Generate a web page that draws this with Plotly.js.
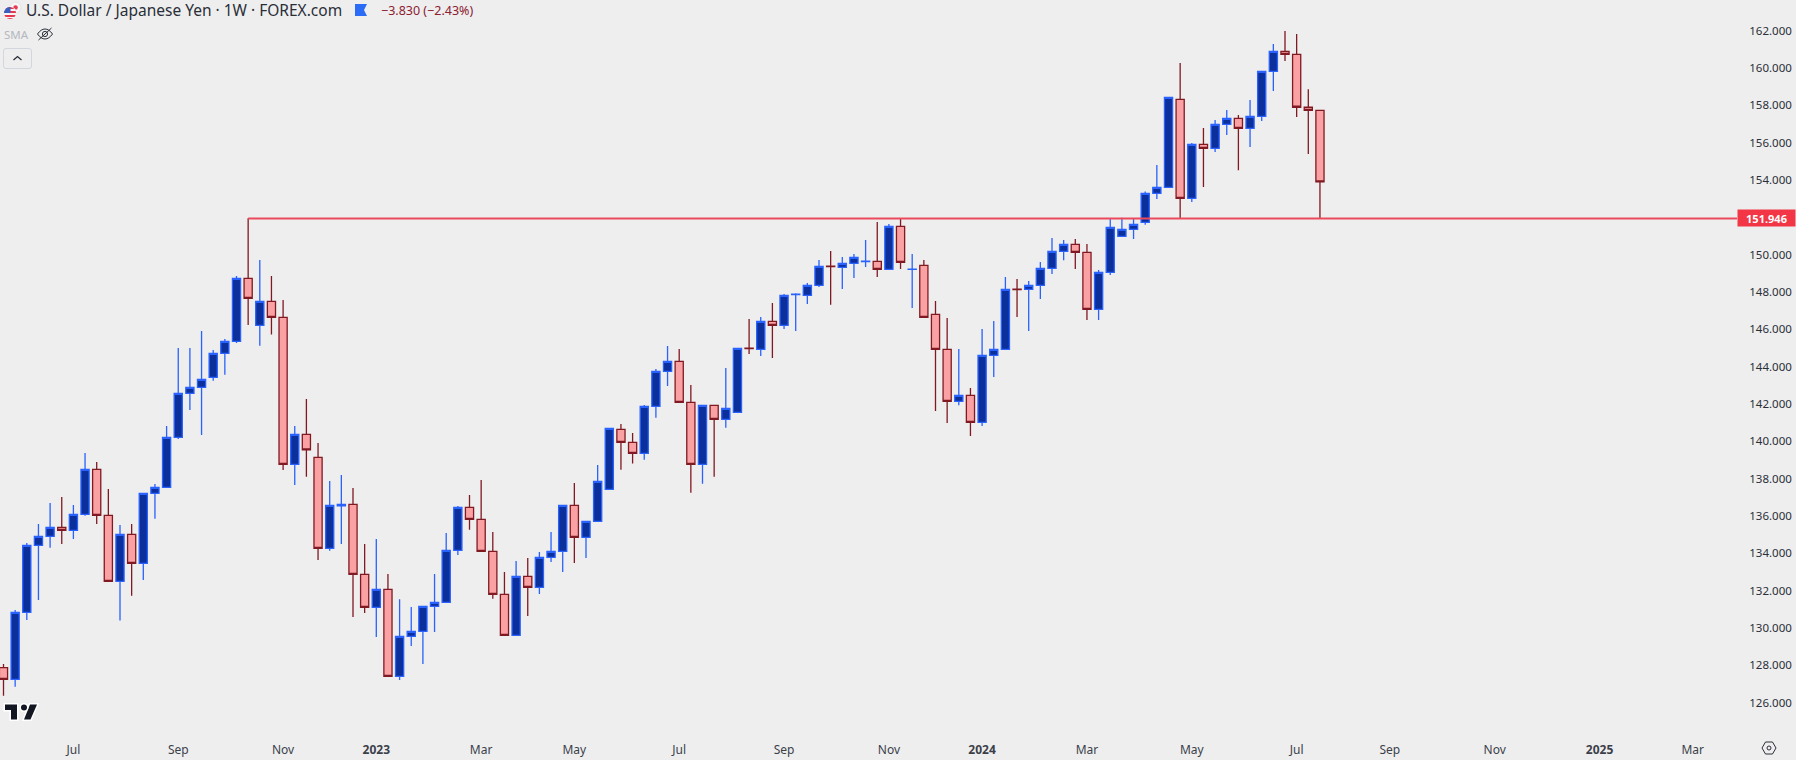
<!DOCTYPE html>
<html>
<head>
<meta charset="utf-8">
<title>USD/JPY weekly</title>
<script src="https://cdn.plot.ly/plotly-3.0.1.min.js"></script>
<style>html,body{margin:0;padding:0;background:#eeeeee;overflow:hidden}#chart{width:1796px;height:760px}</style>
</head>
<body>
<div id="chart"></div>
<script>
const firstWeek = '2022-05-23';
const opens = [127.88,127.25,130.84,134.43,134.91,135.39,135.23,136.09,138.50,136.04,132.50,135.02,133.47,137.22,137.54,140.22,142.57,142.89,143.43,144.72,145.36,148.73,146.21,147.50,146.64,138.77,140.38,139.14,134.27,136.55,136.63,132.88,131.11,132.07,127.41,129.55,129.82,131.16,131.38,134.16,136.47,135.82,134.11,131.81,129.61,132.77,132.18,133.79,134.11,136.57,134.86,135.72,137.43,140.64,139.95,139.36,141.88,143.75,144.29,142.09,138.77,141.93,141.18,141.56,145.00,144.93,146.43,146.22,147.86,147.82,148.36,149.39,149.32,149.54,149.63,149.64,149.22,151.52,149.21,149.43,146.80,144.93,142.14,142.47,141.02,144.61,144.93,148.15,148.14,148.36,149.27,150.18,150.55,150.13,147.07,149.05,150.98,151.36,151.73,153.29,153.61,158.32,153.02,155.91,155.70,156.98,157.30,156.77,157.41,159.82,160.89,160.73,157.90,157.73];
const highs = [128.07,130.97,134.56,135.57,136.70,137.02,136.59,139.38,138.90,137.45,135.52,135.57,137.22,137.72,140.82,145.00,145.00,145.91,144.90,145.48,148.86,151.95,149.72,148.86,147.57,140.82,142.27,139.91,137.88,138.20,137.50,134.50,134.77,132.89,131.55,131.13,131.16,132.89,135.09,136.54,137.13,137.93,135.14,133.00,133.59,133.75,134.07,135.14,136.57,137.77,135.72,138.73,140.70,140.93,140.45,141.95,143.88,145.11,144.95,143.02,141.93,141.93,143.93,144.98,146.55,146.66,147.41,147.89,147.93,148.48,149.72,150.20,149.88,150.04,150.79,151.75,151.64,151.93,150.04,149.72,147.52,146.61,144.95,142.86,146.02,146.45,148.80,148.70,148.59,149.61,150.89,150.79,150.84,150.57,149.18,151.92,151.98,151.95,153.39,154.80,158.43,160.27,155.98,156.79,157.22,157.75,157.48,158.29,159.82,161.29,161.98,161.82,158.87,157.73];
const lows = [126.38,126.86,130.43,131.50,134.30,134.50,134.77,136.02,135.57,132.50,130.40,131.73,132.57,135.86,137.54,140.13,141.68,140.34,143.25,143.57,145.27,146.23,145.13,145.72,138.47,137.66,138.11,133.64,134.14,134.50,130.59,130.81,129.52,127.41,127.22,129.04,128.07,129.79,131.38,133.91,135.27,134.11,131.57,129.61,129.61,130.65,131.82,133.54,133.00,133.48,133.75,135.72,137.43,138.48,138.81,139.02,141.27,142.97,142.09,137.25,137.73,138.11,140.73,141.56,144.68,144.57,144.47,146.02,145.91,147.36,148.27,147.32,148.16,148.75,149.34,148.81,149.22,149.23,147.14,146.64,141.63,140.98,141.93,140.29,140.82,143.45,144.93,146.66,145.91,147.63,148.97,149.71,149.23,146.50,146.50,148.91,150.98,150.84,151.61,152.98,153.61,151.93,152.82,153.63,155.50,156.41,154.53,155.77,157.16,158.77,160.38,157.38,155.39,151.946];
const closes = [127.25,130.84,134.43,134.91,135.39,135.23,136.09,138.50,136.04,132.50,135.02,133.47,137.22,137.54,140.22,142.57,142.89,143.32,144.72,145.36,148.73,147.66,147.50,146.64,138.77,140.38,139.55,134.27,136.57,136.63,132.88,131.11,132.07,127.41,129.55,129.82,131.16,131.38,134.16,136.47,135.82,134.11,131.81,129.61,132.77,132.18,133.79,134.11,136.57,134.86,135.72,137.86,140.70,139.95,139.36,141.88,143.75,144.29,142.09,138.77,141.93,141.18,141.77,144.98,144.97,146.43,146.22,147.82,147.89,148.36,149.38,149.37,149.54,149.86,149.65,149.22,151.52,149.59,149.23,146.64,144.93,142.14,142.47,141.02,144.61,144.93,148.14,148.13,148.36,149.27,150.18,150.55,150.13,147.07,149.05,151.47,151.36,151.63,153.29,153.61,158.43,153.02,155.91,155.70,156.98,157.30,156.77,157.41,159.82,160.89,160.73,157.90,157.73,153.90];

const levelDates = ['2022-10-17','2025-03-29 14:00'];
const levelPrices = [151.946,151.946];
const levelLabel = '<b>151.946</b>';

const monthTickDates = ['2022-07-04','2022-09-05','2022-11-07','2023-01-02','2023-03-06','2023-05-01','2023-07-03','2023-09-04','2023-11-06','2024-01-01','2024-03-04','2024-05-06','2024-07-08','2024-09-02','2024-11-04','2025-01-06','2025-03-03'];
const monthTickLabels = ['Jul','Sep','Nov','<b>2023</b>','Mar','May','Jul','Sep','Nov','<b>2024</b>','Mar','May','Jul','Sep','Nov','<b>2025</b>','Mar'];
const priceTicks = [126,128,130,132,134,136,138,140,142,144,146,148,150,154,156,158,160,162];

const headerTitle = 'U.S. Dollar / Japanese Yen · 1W · FOREX.com';
const headerChange = '−3.830 (−2.43%)';
const indicatorName = 'SMA';

const weeks = opens.map((_, i) => {
  const d = new Date(firstWeek + 'T00:00:00Z');
  d.setUTCDate(d.getUTCDate() + 7 * i);
  return d.toISOString().slice(0, 10);
});

const PW = 1737, PH = 730;
const FONT = '"Noto Sans", sans-serif';
const px = x => x / PW;
const py = y => 1 - y / PH;
const svgUri = s => 'data:image/svg+xml;utf8,' + encodeURIComponent(s);
const img = (s, x, y, w, h) => ({source: svgUri(s), xref: 'paper', yref: 'paper', x: px(x), y: py(y), sizex: w / PW, sizey: h / PH, xanchor: 'left', yanchor: 'top', sizing: 'stretch', layer: 'above'});
const note = (text, x, y, size, color, extra) => Object.assign({text, xref: 'paper', yref: 'paper', x: px(x), y: py(y), xanchor: 'left', yanchor: 'middle', showarrow: false, borderpad: 0, font: {family: FONT, size, color}}, extra || {});

const flagIcon = '<svg xmlns="http://www.w3.org/2000/svg" width="20" height="20" viewBox="0 0 20 20"><circle cx="13.5" cy="6.5" r="5.5" fill="#f5f5f5" stroke="#d8d8e0" stroke-width="0.6"/><circle cx="13.5" cy="6.5" r="2.3" fill="#e8384f"/><circle cx="8" cy="12" r="6.6" fill="#eeeeee"/><clipPath id="c"><circle cx="8" cy="12" r="6"/></clipPath><g clip-path="url(#c)"><rect x="2" y="6" width="12" height="12" fill="#f5f5f5"/><rect x="2" y="6" width="12" height="2" fill="#e8384f"/><rect x="2" y="10" width="12" height="2" fill="#e8384f"/><rect x="2" y="14" width="12" height="2" fill="#e8384f"/><rect x="2" y="17" width="12" height="1" fill="#e8384f"/><rect x="2" y="6" width="6.5" height="6" fill="#3b5fc0"/></g></svg>';
const bookmarkIcon = '<svg xmlns="http://www.w3.org/2000/svg" width="12" height="12" viewBox="0 0 12 12"><path d="M0 0H12L9 6L12 12H0Z" fill="#2a6cf6"/></svg>';
const eyeIcon = '<svg xmlns="http://www.w3.org/2000/svg" width="18" height="14" viewBox="0 0 18 14"><path d="M1.5 7C4 3.5 6.5 2 9 2s5 1.500 7.500 5C14 10.500 11.500 12 9 12S4 10.500 1.500 7Z" fill="none" stroke="#2a2e39" stroke-width="1"/><circle cx="9" cy="7" r="2.600" fill="none" stroke="#2a2e39" stroke-width="1"/><path d="M2.500 13L15.500 1" stroke="#2a2e39" stroke-width="1"/></svg>';
const buttonIcon = '<svg xmlns="http://www.w3.org/2000/svg" width="29" height="21" viewBox="0 0 29 21"><rect x="0.500" y="0.500" width="28" height="20" rx="2.500" fill="#eeeeee" stroke="#d3d6de"/><path d="M10.500 12L14.500 8.500L18.500 12" fill="none" stroke="#2a2e39" stroke-width="1.300"/></svg>';
const logoIcon = '<svg xmlns="http://www.w3.org/2000/svg" width="36" height="20" viewBox="0 0 36 20"><g fill="#131722" stroke="#ffffff" stroke-width="3" paint-order="stroke" stroke-linejoin="miter"><path d="M14 2.500H2v5.500h6v9.500h6Z"/><path d="M27.500 17.500h-6.500l6-15h7Z"/><circle cx="21" cy="5.500" r="3"/></g></svg>';
const gearIcon = '<svg xmlns="http://www.w3.org/2000/svg" width="16" height="14" viewBox="0 0 16 14"><path d="M4.500 1H11.500L15 7L11.500 13H4.500L1 7Z" fill="none" stroke="#2a2e39" stroke-width="1"/><circle cx="8" cy="7" r="2" fill="none" stroke="#2a2e39" stroke-width="1"/></svg>';

const traces = [
  {
    type: 'candlestick', x: weeks, open: opens, high: highs, low: lows, close: closes,
    increasing: {line: {color: '#2962ff', width: 1.3}, fillcolor: '#0b2f9b'},
    decreasing: {line: {color: '#801922', width: 1.3}, fillcolor: '#faa1a4'},
    hoverinfo: 'skip', showlegend: false
  },
  {
    type: 'scatter', mode: 'lines', x: levelDates, y: levelPrices,
    line: {color: '#ec4a5c', width: 2}, hoverinfo: 'skip', showlegend: false
  }
];

const layout = {
  width: 1796, height: 760,
  margin: {l: 0, r: 59, t: 0, b: 30, pad: 0},
  paper_bgcolor: '#eeeeee', plot_bgcolor: '#eeeeee',
  boxgap: 0.3, boxgroupgap: 0,
  showlegend: false,
  font: {family: FONT, size: 12, color: '#2a2e39'},
  xaxis: {
    type: 'date', range: ['2022-05-20 21:36', '2025-03-29 14:00'],
    tickmode: 'array', tickvals: monthTickDates, ticktext: monthTickLabels,
    ticks: 'outside', ticklen: 9, tickcolor: '#eeeeee', tickangle: 0,
    tickfont: {family: FONT, size: 12, color: '#3b3f4a'},
    showgrid: false, zeroline: false, showline: false,
    rangeslider: {visible: false}, fixedrange: true
  },
  yaxis: {
    type: 'linear', side: 'right', range: [124.54, 163.645],
    tickmode: 'array', tickvals: priceTicks, tickformat: '.3f',
    ticks: 'outside', ticklen: 9, tickcolor: '#eeeeee',
    tickfont: {family: FONT, size: 11.500, color: '#2a2e39'},
    showgrid: false, zeroline: false, showline: false, fixedrange: true
  },
  annotations: [
    note(headerTitle, 25, 10.5, 15.5, '#2a2e39'),
    note(headerChange, 380, 10.5, 12.5, '#8c2030'),
    note(indicatorName, 3, 35, 11.500, '#b4b7c0'),
    {text: levelLabel, xref: 'paper', yref: 'paper', x: 1, y: py(218.4), xanchor: 'left', yanchor: 'middle', showarrow: false, width: 57, height: 16, align: 'center', valign: 'middle', bgcolor: '#f23645', borderpad: 0, font: {family: FONT, size: 11, color: '#ffffff'}}
  ],
  images: [
    img(flagIcon, 2, 1, 20, 20),
    img(bookmarkIcon, 355, 4, 12, 12),
    img(eyeIcon, 36, 27, 18, 14),
    img(buttonIcon, 3, 48, 29, 21),
    img(logoIcon, 3, 702, 36, 20),
    img(gearIcon, 1761, 741, 16, 14)
  ]
};

Plotly.newPlot('chart', traces, layout, {displayModeBar: false, staticPlot: true});
</script>
</body>
</html>
